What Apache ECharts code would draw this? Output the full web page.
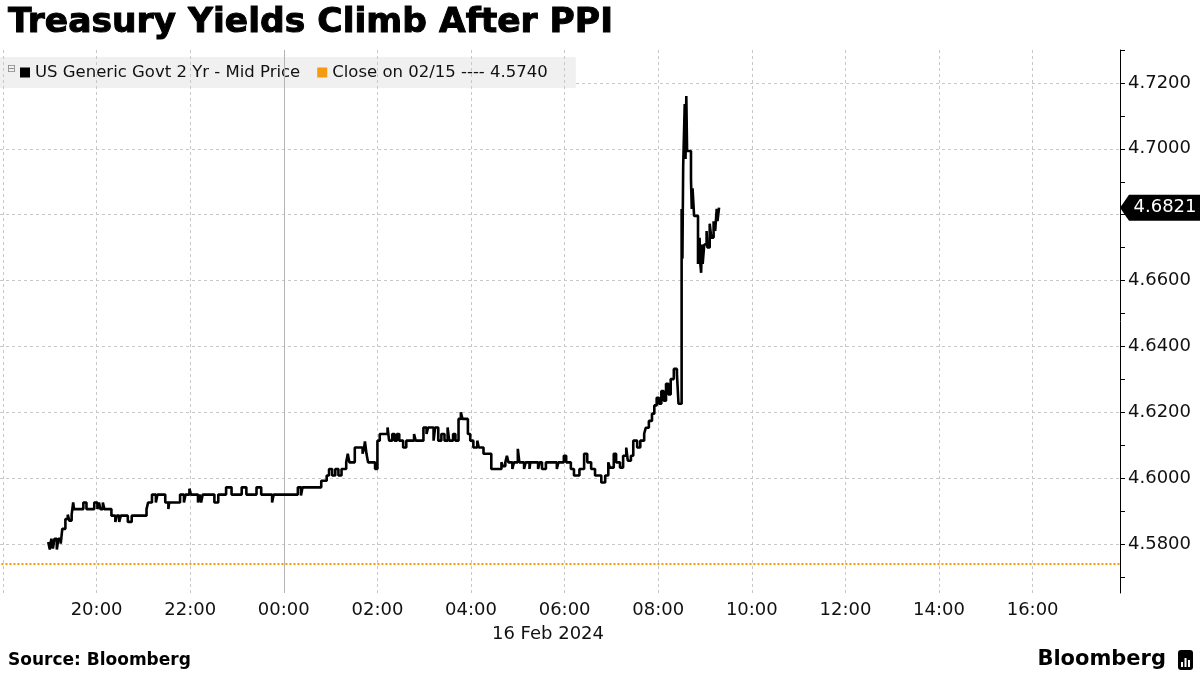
<!DOCTYPE html>
<html><head><meta charset="utf-8">
<script src="https://cdn.jsdelivr.net/npm/echarts@6/dist/echarts.min.js"></script>
<style>html,body{margin:0;padding:0;background:#fff}#c{width:1200px;height:675px}</style>
</head><body><div id="c"></div>
<script>
const chartTitle = 'Treasury Yields Climb After PPI';
const seriesName = 'US Generic Govt 2 Yr - Mid Price';
const closeDate = '02/15';
const closeValue = 4.5740;
const dateLabel = '16 Feb 2024';
const sourceText = 'Source: Bloomberg';
const axisStart = [2024, 2, 15, 17, 58];
const axisEnd = [2024, 2, 16, 17, 52];
const midnight = [2024, 2, 16, 0, 0];
const gridHours = ['18:00','20:00','22:00','00:00','02:00','04:00','06:00','08:00','10:00','12:00','14:00','16:00'];
const yMin = 4.565, yMax = 4.73;

const times = [
'18:58','19:00','19:02','19:04','19:06','19:09','19:11','19:14','19:16','19:20',
'19:23','19:25','19:28','19:30','19:31','19:43','19:47','19:57','20:01','20:03',
'20:05','20:08','20:10','20:19','20:24','20:26','20:29','20:31','20:40','20:45',
'21:04','21:06','21:11','21:16','21:18','21:28','21:32','21:33','21:47','21:52',
'21:54','21:59','22:01','22:10','22:12','22:14','22:16','22:31','22:36','22:46',
'22:53','23:06','23:12','23:25','23:31','23:45','23:47','00:18','00:22','00:24',
'00:48','00:55','00:58','01:02','01:06','01:10','01:14','01:20','01:22','01:24',
'01:31','01:41','01:43','01:44','01:46','01:48','01:57','02:00','02:03','02:13',
'02:15','02:19','02:22','02:25','02:28','02:33','02:37','02:47','02:49','02:59',
'03:03','03:05','03:12','03:14','03:18','03:22','03:26','03:30','03:32','03:37',
'03:40','03:44','03:47','03:49','03:56','03:59','04:03','04:08','04:10','04:16',
'04:26','04:39','04:41','04:44','04:46','04:48','04:53','04:55','05:00','05:02',
'05:08','05:10','05:15','05:16','05:26','05:28','05:31','05:36','05:50','05:52',
'05:59','06:02','06:08','06:12','06:19','06:25','06:29','06:34','06:39','06:47',
'06:52','06:56','06:58','07:03','07:06','07:11','07:15','07:19','07:21','07:25',
'07:28','07:33','07:37','07:42','07:44','07:48','07:52','07:55','07:58','08:01',
'08:04','08:07','08:10','08:13','08:16','08:20','08:24','08:26','08:30','08:31',
'08:32','08:34','08:35','08:36','08:37','08:42','08:43','08:44','08:46','08:51',
'08:53','08:54','08:55','08:56','08:57','08:59','09:02','09:03','09:06','09:08',
'09:11','09:13','09:15','09:16','09:18'
];
const values = [
4.5805,4.5782,4.5815,4.5785,4.5815,4.5782,4.5815,4.5800,4.5845,4.5875,
4.5888,4.5870,4.5888,4.5925,4.5905,4.5925,4.5905,4.5925,4.5905,4.5925,
4.5905,4.5925,4.5905,4.5885,4.5866,4.5885,4.5866,4.5885,4.5866,4.5885,
4.5905,4.5925,4.5949,4.5925,4.5949,4.5925,4.5905,4.5925,4.5949,4.5925,
4.5949,4.5967,4.5949,4.5925,4.5949,4.5925,4.5949,4.5925,4.5949,4.5971,
4.5949,4.5971,4.5949,4.5971,4.5949,4.5925,4.5949,4.5971,4.5946,4.5971,
4.5991,4.6007,4.6027,4.6007,4.6027,4.6007,4.6027,4.6047,4.6073,4.6047,
4.6092,4.6073,4.6092,4.6111,4.6073,4.6047,4.6027,4.6113,4.6133,4.6153,
4.6113,4.6133,4.6113,4.6133,4.6113,4.6092,4.6113,4.6133,4.6113,4.6153,
4.6133,4.6153,4.6113,4.6153,4.6113,4.6133,4.6113,4.6153,4.6113,4.6133,
4.6113,4.6179,4.6199,4.6179,4.6133,4.6113,4.6092,4.6113,4.6092,4.6073,
4.6027,4.6047,4.6035,4.6047,4.6067,4.6047,4.6027,4.6047,4.6088,4.6047,
4.6027,4.6047,4.6027,4.6047,4.6027,4.6047,4.6027,4.6047,4.6027,4.6047,
4.6067,4.6047,4.6027,4.6007,4.6027,4.6073,4.6047,4.6027,4.6007,4.5986,
4.6007,4.6047,4.6031,4.6073,4.6047,4.6031,4.6067,4.6092,4.6052,4.6067,
4.6113,4.6092,4.6113,4.6134,4.6152,4.6173,4.6195,4.6220,4.6243,4.6225,
4.6264,4.6234,4.6286,4.6253,4.6300,4.6331,4.6316,4.6225,4.6817,4.6666,
4.6948,4.7136,4.6969,4.7160,4.6993,4.6908,4.6817,4.6880,4.6796,4.6650,
4.6729,4.6650,4.6623,4.6709,4.6650,4.6709,4.6750,4.6700,4.6772,4.6730,
4.6780,4.6750,4.6817,4.6780,4.6821
];

function utc(a) { return Date.UTC(a[0], a[1] - 1, a[2], a[3], a[4]); }
function toTs(hhmm) {
  const [h, m] = hhmm.split(':').map(Number);
  return Date.UTC(2024, 1, h >= 18 ? 15 : 16, h, m);
}
const pad = n => (n < 10 ? '0' : '') + n;
const seriesData = times.map((t, i) => [toTs(t), values[i]]);
const lastValue = values[values.length - 1];
const xMin = utc(axisStart), xMax = utc(axisEnd);
const closeName = `Close on ${closeDate} ---- ${closeValue.toFixed(4)}`;

const FONT = 'DejaVu Sans';
const ORANGE = '#f39c12';
const GRID_GRAY = '#c8c8c8';

const chart = echarts.init(document.getElementById('c'), null, {renderer: 'canvas'});
chart.setOption({
  animation: false,
  useUTC: true,
  backgroundColor: '#ffffff',
  textStyle: {fontFamily: FONT},
  title: {
    text: chartTitle, left: 3, top: 1,
    textStyle: {fontFamily: FONT, fontSize: 34.5, fontWeight: 'bold', color: '#000',
      textBorderColor: '#000', textBorderWidth: 1}
  },
  legend: {
    left: 0, top: 57, padding: [7, 28, 7, 20],
    backgroundColor: '#f0f0f0',
    itemWidth: 10, itemHeight: 10, itemGap: 17,
    icon: 'rect', selectedMode: false,
    textStyle: {fontFamily: FONT, fontSize: 16.5, color: '#111'},
    data: [seriesName, closeName]
  },
  grid: [
    {left: 0, right: 80, top: 50, bottom: 82},
    {left: 0, right: 80, top: 50, bottom: 98}
  ],
  xAxis: [
    {
      type: 'time', gridIndex: 0, min: xMin, max: xMax,
      minInterval: 2 * 3600 * 1000, maxInterval: 2 * 3600 * 1000,
      axisLine: {show: false}, axisTick: {show: false},
      splitLine: {show: false},
      axisLabel: {
        showMinLabel: false, showMaxLabel: false,
        fontFamily: FONT, fontSize: 18, color: '#111', margin: 8,
        formatter: function (v) {
          const d = new Date(v);
          const h = d.getUTCHours(), m = d.getUTCMinutes();
          if (m !== 0 || h % 2 !== 0) return '';
          if (h === 18 && d.getUTCDate() === 15) return '';
          return pad(h) + ':' + pad(m);
        }
      }
    },
    {type: 'value', gridIndex: 1, min: 0, max: 1, show: false}
  ],
  yAxis: [
    {
      type: 'value', gridIndex: 0, position: 'right', min: yMin, max: yMax,
      axisLine: {show: true, onZero: false, lineStyle: {color: '#000', width: 1}},
      axisTick: {show: false}, axisLabel: {show: false}, splitLine: {show: false}
    },
    {
      type: 'value', gridIndex: 1, position: 'right', min: 4.57, max: yMax, interval: 0.01,
      axisLine: {show: false, onZero: false},
      axisTick: {show: true, length: 5, lineStyle: {color: '#000', width: 1}},
      axisLabel: {
        fontFamily: FONT, fontSize: 18, color: '#111', margin: 8,
        formatter: function (v) {
          const k = Math.round(v * 100);
          return (k % 2 === 0 && k < 473) ? v.toFixed(4) : '';
        }
      },
      splitLine: {show: true, lineStyle: {color: ['rgba(0,0,0,0)', GRID_GRAY], type: [3, 3], width: 1}}
    }
  ],
  series: [
    {
      name: 'grid', type: 'line', xAxisIndex: 0, yAxisIndex: 0, data: [], z: 1,
      markLine: {
        silent: true, symbol: 'none', label: {show: false}, precision: 6,
        lineStyle: {color: GRID_GRAY, type: [3, 3], width: 1},
        data: gridHours.map(h => ({xAxis: toTs(h)})).concat([
          {xAxis: utc(midnight), lineStyle: {color: '#b4b4b4', type: 'solid', width: 1}}
        ])
      }
    },
    {
      name: closeName,
      type: 'line', xAxisIndex: 0, yAxisIndex: 0, data: [], z: 2,
      color: ORANGE,
      markLine: {
        silent: true, symbol: 'none', label: {show: false}, precision: 6,
        lineStyle: {color: ORANGE, type: 'dotted', width: 2},
        data: [{yAxis: closeValue}]
      }
    },
    {
      name: seriesName, type: 'line', step: 'end', xAxisIndex: 0, yAxisIndex: 0,
      data: seriesData, showSymbol: false, symbol: 'none', z: 5,
      color: '#000',
      lineStyle: {color: '#000', width: 2.6},
      markPoint: {
        silent: true,
        symbol: 'path://M0,13 L9,0 L82,0 L82,26 L9,26 Z',
        symbolSize: [82, 26],
        symbolOffset: ['50%', 0],
        itemStyle: {color: '#000'},
        label: {
          show: true, position: 'inside', offset: [4, 0],
          color: '#fff', fontFamily: FONT, fontSize: 18,
          formatter: () => lastValue.toFixed(4)
        },
        data: [{coord: [xMax, lastValue]}]
      }
    }
  ],
  graphic: [
    {type: 'text', left: 7, top: 64, z: 100, style: {text: '⊟', fontSize: 11, fill: '#888', fontFamily: FONT}},
    {type: 'text', x: 548, y: 625, style: {text: dateLabel, fontSize: 18, fill: '#111', fontFamily: FONT, textAlign: 'center'}},
    {type: 'text', left: 8, top: 652, style: {text: sourceText, fontSize: 17, fontWeight: 'bold', fill: '#000', fontFamily: FONT}},
    {type: 'text', right: 34, top: 649, style: {text: 'Bloomberg', fontSize: 21, fontWeight: 'bold', fill: '#000', fontFamily: FONT}},
    {type: 'group', right: 7, top: 650, children: [
      {type: 'rect', shape: {x: 0, y: 0, width: 15, height: 20, r: 3}, style: {fill: '#000'}},
      {type: 'rect', shape: {x: 3, y: 12, width: 2, height: 5}, style: {fill: '#fff'}},
      {type: 'rect', shape: {x: 6.5, y: 8, width: 2, height: 9}, style: {fill: '#fff'}},
      {type: 'rect', shape: {x: 10, y: 10, width: 2, height: 7}, style: {fill: '#fff'}}
    ]}
  ]
});
</script></body></html>
